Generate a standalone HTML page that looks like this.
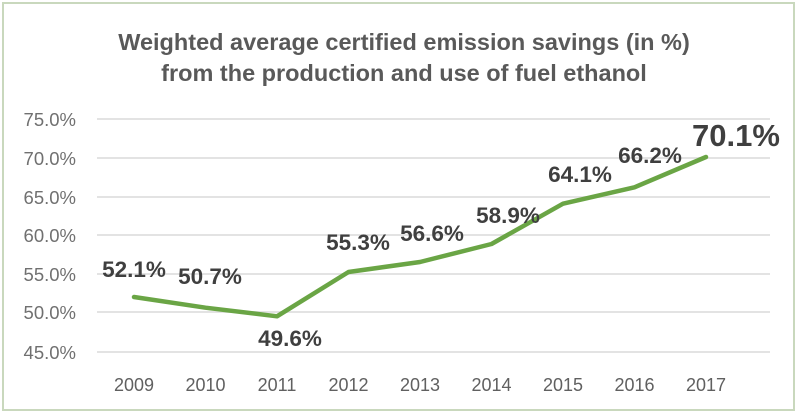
<!DOCTYPE html>
<html><head><meta charset="utf-8"><style>
html,body{margin:0;padding:0;background:#fff;}
</style></head><body>
<svg width="800" height="414" xmlns="http://www.w3.org/2000/svg" style="display:block">
<rect x="0" y="0" width="800" height="414" fill="#fff"/>
<rect x="3" y="3" width="791" height="407" fill="none" stroke="#c9d8bd" stroke-width="2"/>
<g font-family="Liberation Sans, sans-serif" font-weight="bold" fill="#595959" font-size="23.5" text-anchor="middle">
<text x="404" y="50">Weighted average certified emission savings (in %)</text>
<text x="404" y="81">from the production and use of fuel ethanol</text>
</g>
<g stroke="#e3e3e3" stroke-width="2">
<line x1="97" x2="770" y1="119" y2="119"/>
<line x1="97" x2="770" y1="158" y2="158"/>
<line x1="97" x2="770" y1="197" y2="197"/>
<line x1="97" x2="770" y1="235" y2="235"/>
<line x1="97" x2="770" y1="274" y2="274"/>
<line x1="97" x2="770" y1="312" y2="312"/>
<line x1="97" x2="770" y1="352" y2="352"/>
</g>
<g font-family="Liberation Sans, sans-serif" fill="#707070" font-size="18.5" text-anchor="end">
<text x="76" y="126">75.0%</text>
<text x="76" y="165">70.0%</text>
<text x="76" y="204">65.0%</text>
<text x="76" y="242">60.0%</text>
<text x="76" y="281">55.0%</text>
<text x="76" y="319">50.0%</text>
<text x="76" y="359">45.0%</text>
</g>
<g font-family="Liberation Sans, sans-serif" fill="#606060" font-size="18" text-anchor="middle">
<text x="134" y="391">2009</text><text x="205.5" y="391">2010</text><text x="277" y="391">2011</text>
<text x="348.5" y="391">2012</text><text x="420" y="391">2013</text><text x="491.5" y="391">2014</text>
<text x="563" y="391">2015</text><text x="634.5" y="391">2016</text><text x="706" y="391">2017</text>
</g>
<polyline fill="none" stroke="#6aa545" stroke-width="4.5" stroke-linejoin="round" stroke-linecap="round"
points="134,297 205.5,307.7 277,316.3 348.5,272 420,262 491.5,244 563,203.7 634.5,187.3 706,157"/>
<g font-family="Liberation Sans, sans-serif" font-weight="bold" fill="#3f3f3f" font-size="22.5" text-anchor="middle">
<text x="134" y="277">52.1%</text>
<text x="210" y="284">50.7%</text>
<text x="290" y="346">49.6%</text>
<text x="358" y="250">55.3%</text>
<text x="432" y="241">56.6%</text>
<text x="508" y="223">58.9%</text>
<text x="580" y="182">64.1%</text>
<text x="650" y="163">66.2%</text>
<text x="736" y="146" font-size="31">70.1%</text>
</g>
</svg>
</body></html>
